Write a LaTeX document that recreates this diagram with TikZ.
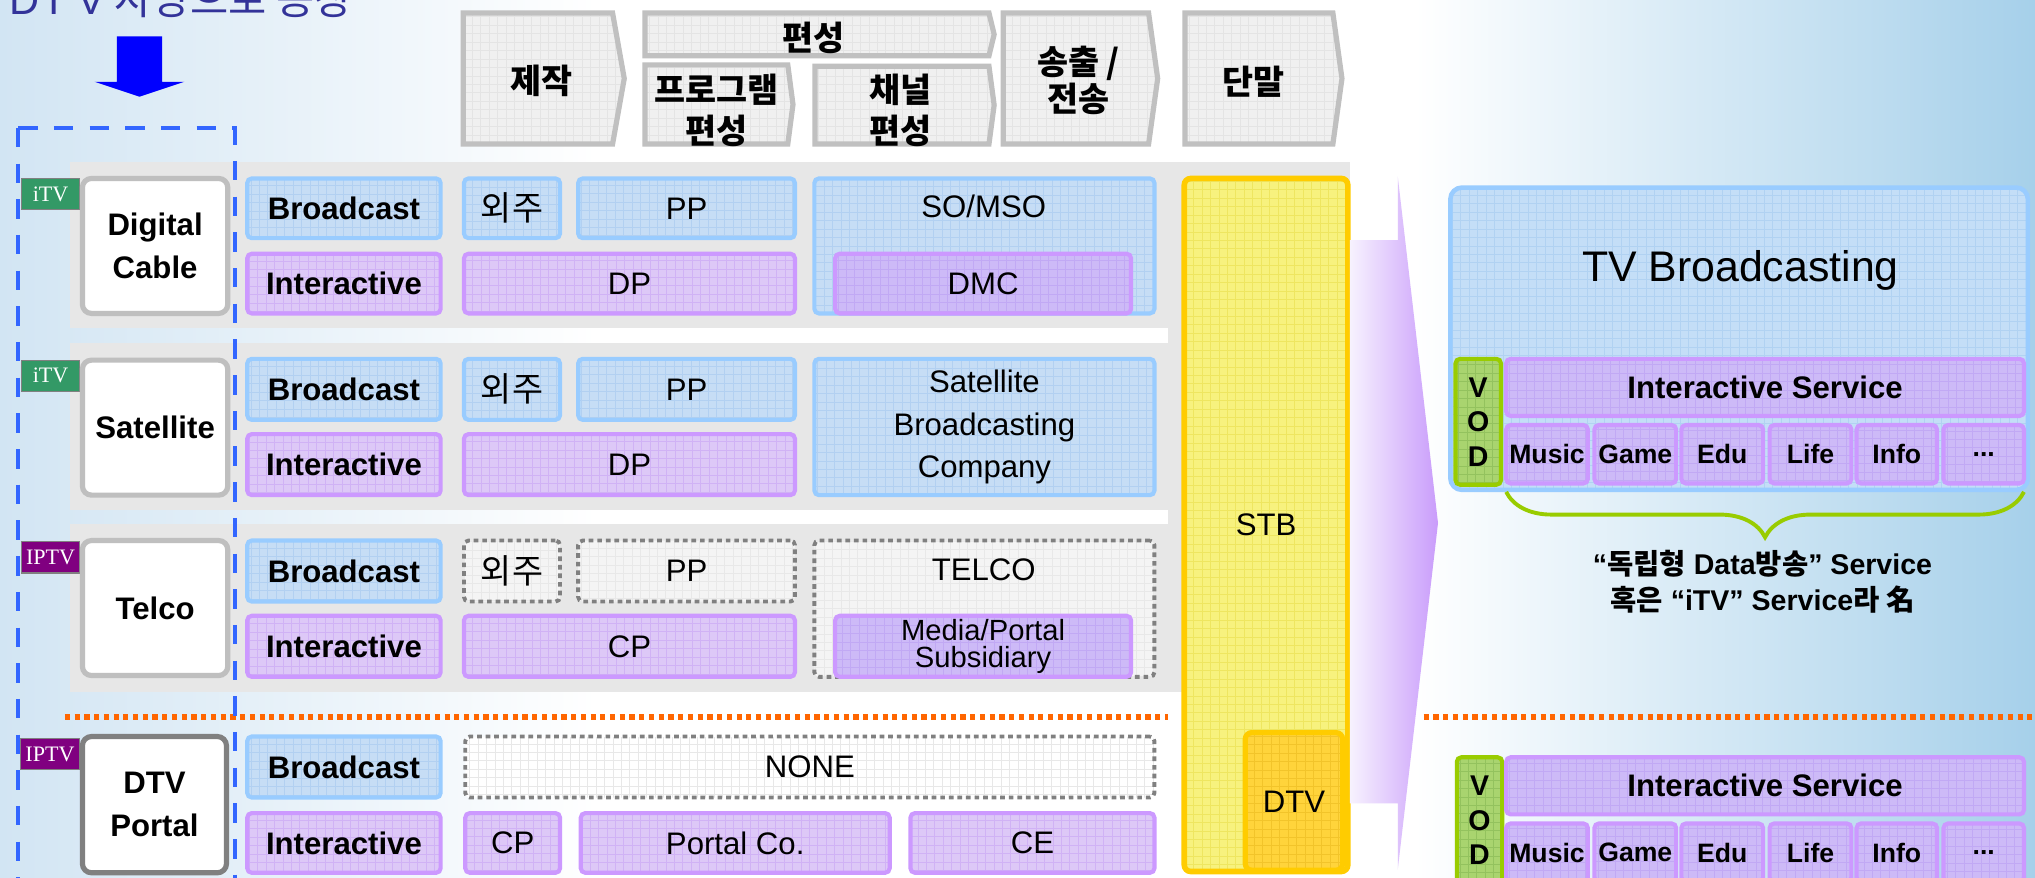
\documentclass[tikz,border=0pt]{standalone}
\usepackage{fontspec}
\setmainfont{Liberation Sans}
\newfontfamily\kr{Noto Sans CJK KR}
\newfontfamily\serf{Liberation Serif}
\usetikzlibrary{decorations.pathreplacing}

\definecolor{bandgray}{HTML}{E7E7E7}
\definecolor{bfill}{HTML}{C6DDF5}
\definecolor{bline}{HTML}{99CCFF}
\definecolor{bgrid}{HTML}{B2D0F1}
\definecolor{pfill}{HTML}{DDC8F7}
\definecolor{pline}{HTML}{CC99FF}
\definecolor{pgrid}{HTML}{D0B2F5}
\definecolor{gfill}{HTML}{F4F4F4}
\definecolor{gline}{HTML}{808080}
\definecolor{ggrid}{HTML}{E8E8E8}
\definecolor{hfill}{HTML}{F0F0F0}
\definecolor{hline}{HTML}{C0C0C0}
\definecolor{hgrid}{HTML}{E4E4E4}
\definecolor{yfill}{HTML}{F7F27E}
\definecolor{yline}{HTML}{FFCC00}
\definecolor{ygrid}{HTML}{EEE660}
\definecolor{dfill}{HTML}{FFD43B}
\definecolor{dgrid}{HTML}{F2C42A}
\definecolor{vfill}{HTML}{A9D46F}
\definecolor{vline}{HTML}{99CC00}
\definecolor{vgrid}{HTML}{93C25E}
\definecolor{sfill}{HTML}{CDBAF7}
\definecolor{sgrid}{HTML}{C1A9F4}
\definecolor{tvfill}{HTML}{C4DEF7}
\definecolor{tvgrid}{HTML}{B1D2F2}
\definecolor{itvgreen}{HTML}{339966}
\definecolor{iptvpurple}{HTML}{800080}
\definecolor{dashblue}{HTML}{3366FF}
\definecolor{orangedot}{HTML}{FF6600}
\definecolor{titleblue}{HTML}{333399}
\definecolor{bgl}{HTML}{D2E5F3}
\definecolor{bgr}{HTML}{A6D0EA}
\definecolor{wedgel}{HTML}{F7F2FE}
\definecolor{wedger}{HTML}{C99CFB}
\definecolor{namegray}{HTML}{BFBFBF}
\definecolor{namedark}{HTML}{808080}

\tikzset{
  every node/.style={inner sep=0pt,outer sep=0pt},
  gridded/.style={path picture={\draw[#1,line width=0.6pt,solid] (path picture bounding box.south west) grid[step=6.5pt] (path picture bounding box.north east);}},
  cellbox/.style={rounded corners=3.5pt,line width=3.2pt,align=center,font=\fontsize{24}{28}\selectfont},
  bluecell/.style={cellbox,fill=bfill,draw=bline,gridded=bgrid},
  purpcell/.style={cellbox,fill=pfill,draw=pline,gridded=pgrid},
  dotcell/.style={cellbox,fill=gfill,draw=gline,line width=3pt,dash pattern=on 3.6pt off 3pt,gridded=ggrid},
  boldtxt/.style={font=\bfseries\fontsize{24}{28}\selectfont},
  krtxt/.style={font=\kr\fontsize{26}{28}\selectfont},
  plaintxt/.style={font=\fontsize{24}{28}\selectfont},
  namebox/.style={rounded corners=7pt,line width=4pt,fill=white,draw=namegray,align=center,font=\bfseries\fontsize{24}{33}\selectfont},
  tagbox/.style={draw=gline,line width=0.8pt,text=white,font=\serf\fontsize{17}{17}\selectfont,minimum width=45,minimum height=24},
  hdrshape/.style={fill=hfill,draw=hline,line width=4pt,gridded=hgrid},
  hdrtext/.style={font=\kr\bfseries\fontsize{26}{31}\selectfont,align=center},
  smcell/.style={cellbox,fill=sfill,draw=pline,gridded=sgrid,font=\bfseries\fontsize{20.5}{24}\selectfont},
}

\newcommand\bx[7]{\node[#2,minimum width={(#5)-(#3)-3},minimum height={(#6)-(#4)-3}] (#1) at ({((#3)+(#5))/2},{((#4)+(#6))/2}) {#7};}
\newcommand\chev[5]{\draw[hdrshape] ({#1+2},{#2+2}) -- ({#3-1},{#2+2}) -- ({#4-3},{(#2+#5)/2}) -- ({#3-1},{#5-2}) -- ({#1+2},{#5-2}) -- cycle;}

\begin{document}
\begin{tikzpicture}[x=1pt,y=-1pt]
\clip (0,0) rectangle (1568,676);
% background
\fill[white] (0,0) rectangle (1568,676);
\shade[left color=bgl,right color=white] (0,0) rectangle (460,676);
\shade[left color=white,right color=bgr] (1090,0) rectangle (1568,676);
% title (cut off at the top, as in the reference)
\node[anchor=base west,text=titleblue,font=\fontsize{32}{36}\selectfont] (title) at (7,11.5) {D\hspace{2pt}T\hspace{8pt}V\hspace{7pt}{\kr 사양으로 등장}};
% blue arrow
\fill[blue] (90,28) -- (125,28) -- (125,63) -- (142,63) -- (107.5,74.5) -- (73,63) -- (90,63) -- cycle;
% gray bands
\fill[bandgray] (54,125) rectangle (1040,253);
\fill[bandgray] (54,264) rectangle (1040,393);
\fill[bandgray] (54,404) rectangle (1040,533);
\fill[bandgray] (900,125) rectangle (1040,533);
% header chevrons
\chev{355}{8}{473}{484}{113}
\chev{495}{8}{763}{769}{45}
\chev{495}{48}{608}{614}{113}
\chev{626}{49}{763}{769}{113}
\chev{771}{8}{886}{895}{113}
\chev{911}{8}{1028}{1037}{113}
\node[hdrtext] (h1) at (417,62) {제작};
\node[hdrtext] (h2) at (627,29) {편성};
\node[hdrtext] (h3) at (552,85) {프로그램\\편성};
\node[hdrtext] (h4) at (694,85) {채널\\편성};
\node[hdrtext,font=\kr\bfseries\fontsize{26}{29}\selectfont] (h5) at (831,62) {송출 /\\전송};
\node[hdrtext] (h6) at (966,63) {단말};
% row 1
\node[tagbox,fill=itvgreen] (tag1) at (39,149.5) {iTV};
\bx{dc}{namebox}{62}{136}{177}{243}{Digital\\Cable}
\bx{b1}{bluecell,boldtxt}{189}{136}{341}{185}{Broadcast}
\bx{i1}{purpcell,boldtxt}{189}{194}{341}{243}{Interactive}
\bx{o1}{bluecell,krtxt}{356}{136}{433}{185}{외주}
\bx{pp1}{bluecell}{444}{136}{614}{185}{PP}
\bx{dp1}{purpcell}{356}{194}{614}{243}{DP}
\bx{so}{bluecell}{626}{136}{891}{243}{}
\node[plaintxt] (sotext) at (758,159) {SO/MSO};
\bx{dmc}{purpcell,fill=sfill,gridded=sgrid}{642}{194}{873}{243}{DMC}
% row 2
\node[tagbox,fill=itvgreen] (tag2) at (39,289.5) {iTV};
\bx{sat}{namebox}{62}{276}{177}{383}{Satellite}
\bx{b2}{bluecell,boldtxt}{189}{275}{341}{325}{Broadcast}
\bx{i2}{purpcell,boldtxt}{189}{333}{341}{383}{Interactive}
\bx{o2}{bluecell,krtxt}{356}{275}{433}{325}{외주}
\bx{pp2}{bluecell}{444}{275}{614}{325}{PP}
\bx{dp2}{purpcell}{356}{333}{614}{383}{DP}
\bx{sbc}{bluecell,font=\fontsize{24}{33}\selectfont}{626}{275}{891}{383}{Satellite\\Broadcasting\\Company}
% row 3
\node[tagbox,fill=iptvpurple] (tag3) at (39,429.5) {IPTV};
\bx{tel}{namebox}{62}{415}{177}{522}{Telco}
\bx{b3}{bluecell,boldtxt}{189}{415}{341}{465}{Broadcast}
\bx{i3}{purpcell,boldtxt}{189}{473}{341}{523}{Interactive}
\bx{o3}{dotcell,krtxt}{356}{415}{433}{465}{외주}
\bx{pp3}{dotcell}{444}{415}{614}{465}{PP}
\bx{cp3}{purpcell}{356}{473}{614}{523}{CP}
\bx{telco}{dotcell}{626}{415}{891}{523}{}
\node[plaintxt] (telcotext) at (758,439) {TELCO};
\bx{mps}{purpcell,fill=sfill,gridded=sgrid,font=\fontsize{22.5}{21}\selectfont}{642}{473}{873}{523}{Media/Portal\\Subsidiary}
% row 4
\node[tagbox,fill=iptvpurple] (tag4) at (38.5,581) {IPTV};
\bx{dtvp}{namebox,draw=namedark}{62}{566}{176}{674}{DTV\\Portal}
\bx{b4}{bluecell,boldtxt}{189}{566}{341}{616}{Broadcast}
\bx{i4}{purpcell,boldtxt}{189}{625}{341}{674}{Interactive}
\bx{nonebox}{dotcell,fill=white}{357}{566}{891}{616}{NONE}
\bx{cp4}{purpcell}{357}{625}{433}{674}{CP}
\bx{pc4}{purpcell}{446}{625}{687}{674}{Portal Co.}
\bx{ce4}{purpcell}{700}{625}{891}{674}{CE}
% STB column
\bx{stb}{cellbox,fill=yfill,draw=yline,line width=4.3pt,rounded corners=5pt,gridded=ygrid,font=\fontsize{24}{28}\selectfont}{911}{136}{1040}{673}{STB}
\bx{dtv}{cellbox,fill=dfill,draw=yline,line width=4pt,rounded corners=5pt,gridded=dgrid,font=\fontsize{24}{28}\selectfont}{958}{563}{1036}{672}{DTV}
% big wedge arrow
\shade[left color=wedgel,right color=wedger] (1040,185) -- (1077,185) -- (1077,136) -- (1108,403) -- (1077,670) -- (1077,619) -- (1040,619) -- cycle;
% right: TV broadcasting
\bx{tv}{cellbox,fill=tvfill,draw=bline,line width=3.5pt,rounded corners=9pt,gridded=tvgrid}{1116}{143}{1564}{379}{}
\node[font=\fontsize{33}{36}\selectfont] (tvtext) at (1341,208) {TV Broadcasting};
\bx{vod1}{cellbox,fill=vfill,draw=vline,gridded=vgrid,font=\bfseries\fontsize{22}{26.5}\selectfont}{1120}{275}{1158}{375}{V\\O\\D}
\bx{is1}{smcell,font=\bfseries\fontsize{24}{28}\selectfont}{1159}{275}{1561}{322}{Interactive Service}
\bx{m1}{smcell}{1159}{326}{1225}{374}{Music}
\bx{m2}{smcell}{1227}{326}{1293}{374}{Game}
\bx{m3}{smcell}{1294}{326}{1360}{374}{Edu}
\bx{m4}{smcell}{1362}{326}{1428}{374}{Life}
\bx{m5}{smcell}{1429}{326}{1494}{374}{Info}
\bx{m6}{smcell}{1496}{326}{1561}{374}{...}
\draw[vline,line width=3pt,decorate,decoration={brace,amplitude=35pt,mirror}] ([yshift=-6.5pt]m1.south west) -- ([yshift=-6.5pt]m6.south east);
\node[align=center,font=\bfseries\fontsize{22}{28}\selectfont] (brtext) at (1358,448) {“{\kr 독립형} Data{\kr 방송}” Service\\{\kr 혹은} “iTV” Service{\kr 라 名}};
% bottom right
\bx{vod2}{cellbox,fill=vfill,draw=vline,gridded=vgrid,font=\bfseries\fontsize{22}{26.5}\selectfont}{1121}{582}{1159}{682}{V\\O\\D}
\bx{is2}{smcell,font=\bfseries\fontsize{24}{28}\selectfont}{1159}{582}{1561}{629}{Interactive Service}
\bx{n1}{smcell}{1159}{633}{1225}{681}{Music}
\bx{n2}{smcell}{1227}{633}{1293}{681}{Game}
\bx{n3}{smcell}{1294}{633}{1360}{681}{Edu}
\bx{n4}{smcell}{1362}{633}{1428}{681}{Life}
\bx{n5}{smcell}{1429}{633}{1494}{681}{Info}
\bx{n6}{smcell}{1496}{633}{1561}{681}{...}
% orange dotted separators
\draw[orangedot,line width=4.5pt,dash pattern=on 4pt off 3.5pt] (50,552.5) -- (900,552.5);
\draw[orangedot,line width=4.5pt,dash pattern=on 4pt off 3.5pt] (1097,552.5) -- (1568,552.5);
% dashed blue frame
\draw[dashblue,line width=3.5pt,dash pattern=on 15pt off 12.5pt] (14,98.5) -- (14,690);
\draw[dashblue,line width=3.5pt,dash pattern=on 15pt off 12.5pt] (14,98.5) -- (181,98.5) -- (181,690);
\end{tikzpicture}
\end{document}
